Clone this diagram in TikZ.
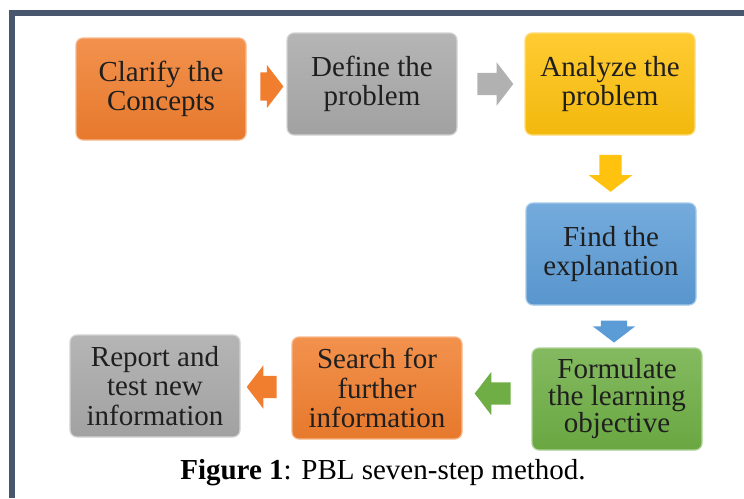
\documentclass[tikz,border=0pt]{standalone}
\usepackage{fontspec}
\setmainfont{Liberation Serif}
\usetikzlibrary{shapes.arrows,calc}

\definecolor{pblorange}{RGB}{240,126,46}
\definecolor{pblgray}{RGB}{168,168,168}
\definecolor{pblyellow}{RGB}{255,194,14}
\definecolor{pblblue}{RGB}{92,156,214}
\definecolor{pblgreen}{RGB}{110,174,68}
\definecolor{framecol}{RGB}{72,86,110}

\tikzset{
  stepnode/.style   = {shape=rectangle, rounded corners=7pt,
                       align=center, inner sep=0pt,
                       minimum width=170pt, minimum height=102pt,
                       text=black!88, line width=1.2pt,
                       font=\fontsize{29}{29.5}\selectfont},
  orangestep/.style = {stepnode, top color=pblorange!85!white,
                       middle color=pblorange, bottom color=pblorange!96!black,
                       draw=pblorange!55!white},
  graystep/.style   = {stepnode, top color=pblgray!85!white,
                       middle color=pblgray, bottom color=pblgray!96!black,
                       draw=pblgray!50!white},
  yellowstep/.style = {stepnode, top color=pblyellow!85!white,
                       middle color=pblyellow, bottom color=pblyellow!95!black,
                       draw=pblyellow!55!white},
  bluestep/.style   = {stepnode, top color=pblblue!85!white,
                       middle color=pblblue, bottom color=pblblue!96!black,
                       draw=pblblue!55!white},
  greenstep/.style  = {stepnode, top color=pblgreen!85!white,
                       middle color=pblgreen, bottom color=pblgreen!96!black,
                       draw=pblgreen!55!white},
  flowarrow/.style  = {single arrow, inner sep=0pt, inner ysep=11pt,
                       single arrow head extend=10.5pt,
                       single arrow tip angle=105, minimum height=30pt}
}

\begin{document}
\begin{tikzpicture}[x=1pt, y=-1pt]
  \useasboundingbox (0,0) rectangle (744,498);
  % open frame, left and top sides only
  \draw[framecol, line width=6pt] (12,498) -- (12,13) -- (744,13);

  % the seven steps
  \node [orangestep] (clarify)   at (161,89)  {Clarify the\\Concepts};
  \node [graystep]   (define)    at (372,84)  {Define the\\problem};
  \node [yellowstep] (analyze)   at (610,84)  {Analyze the\\problem};
  \node [bluestep]   (explain)   at (611,254) {Find the\\explanation};
  \node [greenstep, font=\fontsize{29}{27}\selectfont]
                     (formulate) at (617,399) {Formulate\\the learning\\objective};
  \node [orangestep] (search)    at (377,388) {Search for\\further\\information};
  \node [graystep]   (report)    at (155,386) {Report and\\test new\\information};

  % block arrows between the steps
  \node [flowarrow, fill=pblorange, minimum height=23pt, inner ysep=14pt, single arrow head extend=7.5pt]
        (a1) at ($(clarify.east)!0.5!(define.west)$) {};
  \node [flowarrow, fill=pblgray!90!white, minimum height=36pt]
        (a2) at ($(define.east)!0.5!(analyze.west)$) {};
  \node [flowarrow, fill=pblyellow, rotate=-90, minimum height=37pt]
        (a3) at ($(analyze.south)!0.5!(explain.north)$) {};
  \node [flowarrow, fill=pblblue, rotate=-90, minimum height=22pt, inner ysep=13pt, single arrow head extend=8pt]
        (a4) at ($(explain.south)!0.5!(formulate.north)$) {};
  \node [flowarrow, fill=pblgreen, rotate=180, minimum height=36pt]
        (a5) at ($(formulate.west)!0.5!(search.east)$) {};
  \node [flowarrow, fill=pblorange, rotate=180, minimum height=30pt]
        (a6) at ($(search.west)!0.5!(report.east)$) {};

  \node [font=\fontsize{29}{29}\selectfont, anchor=base] (caption) at (383,479)
        {\textbf{Figure 1}: PBL seven-step method.};
\end{tikzpicture}
\end{document}
